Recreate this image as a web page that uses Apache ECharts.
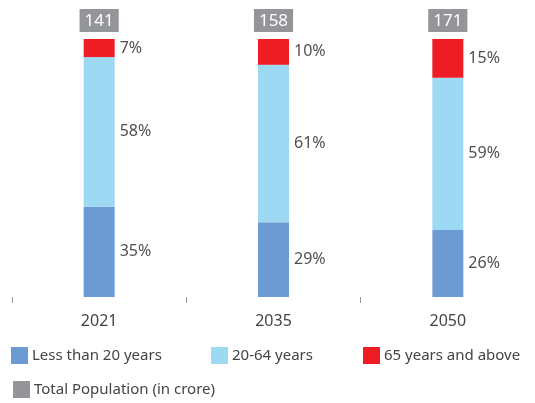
<!DOCTYPE html>
<html>
<head>
<meta charset="utf-8">
<script src="https://cdn.jsdelivr.net/npm/echarts@6/dist/echarts.min.js"></script>
<style>html,body{margin:0;padding:0;background:#fff}#c{width:535px;height:403px}</style>
</head>
<body>
<div id="c"></div>
<script>
const categories = ['2021', '2035', '2050'];
const under20 = [35, 29, 26];
const age20to64 = [58, 61, 59];
const age65plus = [7, 10, 15];
const totals = [141, 158, 171];
const seriesNames = ['Less than 20 years', '20-64 years', '65 years and above', 'Total Population (in crore)'];

const FONT = 'Noto Sans';
const colors = ['#6b9bd2', '#9dd9f3', '#ee1c25', '#939598'];
const chart = echarts.init(document.getElementById('c'), null, {renderer: 'canvas'});

function pctSeries(name, data, color) {
  return {
    name: name, type: 'bar', stack: 'p', data: data, barWidth: 31,
    itemStyle: {color: color},
    label: {show: true, position: 'right', distance: 5, formatter: '{c}%',
      fontFamily: FONT, fontSize: 16, color: '#505050'}
  };
}
function legendAt(name, left, top) {
  return {data: [name], left: left, top: top, padding: 0, itemWidth: 17, itemHeight: 17, itemGap: 0,
    icon: 'rect', textStyle: {fontFamily: FONT, fontSize: 15, color: '#444', padding: [0,0,0,-1]}};
}

chart.setOption({
  animation: false,
  grid: {left: 12, right: -6, top: 39, bottom: 106, containLabel: false},
  legend: [
    legendAt(seriesNames[0], 11, 347),
    legendAt(seriesNames[1], 211, 347),
    legendAt(seriesNames[2], 363, 347),
    legendAt(seriesNames[3], 13, 381)
  ],
  xAxis: {type: 'category', data: categories, offset: 8,
    axisLine: {show: false},
    axisTick: {show: true, length: 6, lineStyle: {color: '#999'}},
    axisLabel: {fontFamily: FONT, fontSize: 16, color: '#444', margin: 8}},
  yAxis: {type: 'value', min: 0, max: 100, show: false},
  series: [
    pctSeries(seriesNames[0], under20, colors[0]),
    pctSeries(seriesNames[1], age20to64, colors[1]),
    pctSeries(seriesNames[2], age65plus, colors[2]),
    {name: seriesNames[3], type: 'bar', stack: 'p', data: totals.map(() => 0), barWidth: 31,
      itemStyle: {color: colors[3]},
      label: {show: true, position: 'top', distance: 7,
        formatter: p => String(totals[p.dataIndex]),
        fontFamily: FONT, fontSize: 17, color: '#fff', backgroundColor: colors[3],
        padding: [3, 5, 2, 5], lineHeight: 18}}
  ]
});
</script>
</body>
</html>
